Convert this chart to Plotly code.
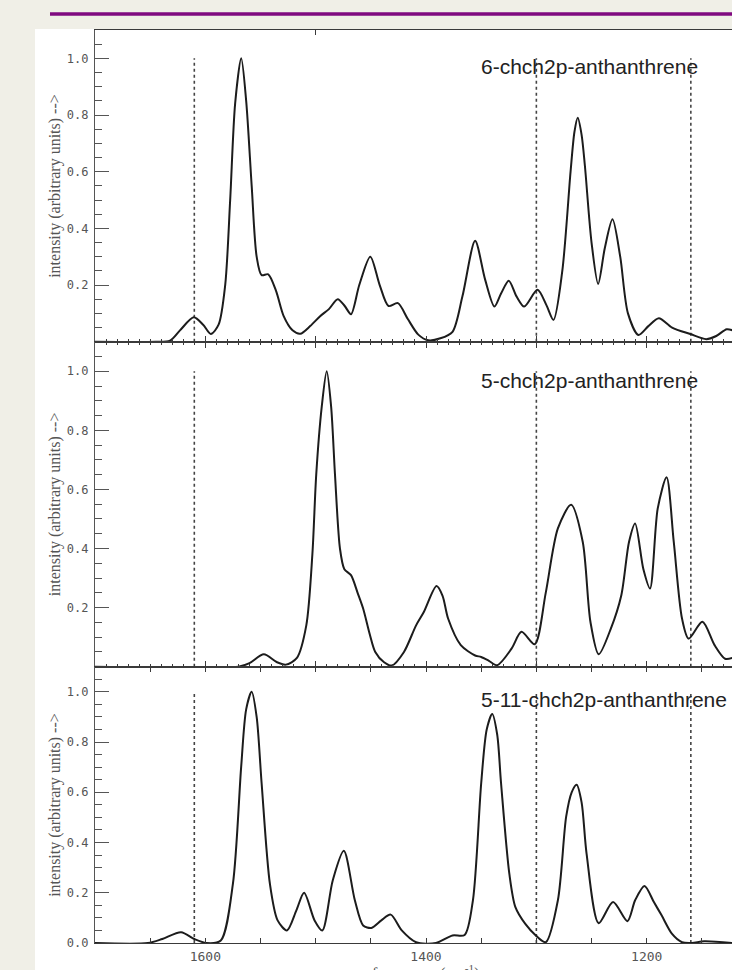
import plotly.graph_objects as go

# ---------------- data ----------------
FREQ_1 = [1700, 1645, 1632, 1623, 1610.5, 1602, 1595, 1588, 1582, 1577.5, 1573, 1567.5, 1563, 1558,
          1553.5, 1549, 1543, 1536, 1529, 1521, 1514, 1505, 1496, 1488, 1480, 1473.5, 1468, 1460.5,
          1450.5, 1442, 1434, 1425.5, 1416.5, 1407, 1398, 1387, 1376, 1367, 1355.5, 1346.5, 1338,
          1332, 1325, 1318, 1311, 1299, 1291, 1284.5, 1276.5, 1269, 1265.5, 1262.5, 1259, 1256, 1250,
          1244, 1238, 1231, 1224, 1217, 1207.5, 1198.5, 1189, 1177, 1160.5, 1146, 1137, 1127.5, 1122]
INT_1 = [0, 0, 0.004, 0.04, 0.086, 0.06, 0.027, 0.06, 0.2, 0.5, 0.84, 1.0, 0.85, 0.55,
         0.3, 0.235, 0.238, 0.18, 0.09, 0.04, 0.028, 0.055, 0.09, 0.115, 0.15, 0.125, 0.097, 0.2,
         0.30, 0.2, 0.126, 0.136, 0.08, 0.025, 0.005, 0.012, 0.035, 0.16, 0.356, 0.22, 0.124,
         0.17, 0.215, 0.16, 0.124, 0.183, 0.13, 0.077, 0.25, 0.6, 0.74, 0.79, 0.73, 0.62, 0.35,
         0.204, 0.33, 0.432, 0.3, 0.1, 0.024, 0.055, 0.083, 0.05, 0.027, 0.009, 0.02, 0.044, 0.04]

FREQ_2 = [1700, 1570, 1560, 1547, 1535, 1527, 1517, 1508.5, 1503, 1499.5, 1494.5, 1490, 1486, 1482.5,
          1478, 1474, 1468, 1462, 1457, 1451, 1446, 1438, 1431, 1420, 1409, 1402, 1390.5, 1385,
          1380, 1368.5, 1355.5, 1350, 1343, 1335.5, 1322.5, 1313.5, 1301.5, 1291.5, 1280.5, 1268.5,
          1258, 1251, 1243.5, 1232.5, 1223, 1216, 1210.5, 1203, 1197, 1190, 1182, 1175.5, 1168,
          1162, 1149.5, 1138.5, 1129, 1122]
INT_2 = [0, 0, 0.012, 0.042, 0.015, 0.007, 0.03, 0.14, 0.38, 0.65, 0.88, 1.0, 0.88, 0.65,
         0.4, 0.33, 0.31, 0.25, 0.197, 0.11, 0.05, 0.015, 0.004, 0.05, 0.14, 0.185, 0.273, 0.24,
         0.163, 0.073, 0.038, 0.033, 0.02, 0.005, 0.061, 0.118, 0.076, 0.25, 0.468, 0.548,
         0.423, 0.152, 0.042, 0.129, 0.242, 0.423, 0.485, 0.33, 0.265, 0.536, 0.641, 0.423, 0.163,
         0.095, 0.152, 0.073, 0.027, 0.03]

FREQ_3 = [1700, 1652, 1639, 1622, 1610, 1599, 1586, 1575, 1567.5, 1563, 1558, 1553.5, 1549, 1541.5,
          1534.5, 1526, 1517.5, 1510.5, 1501, 1494, 1484.5, 1474.5, 1464.5, 1457, 1449.5, 1440.5,
          1432, 1422, 1409, 1391, 1376, 1365, 1357.5, 1350, 1345, 1340, 1335.5, 1332, 1324.5, 1319,
          1310, 1300.5, 1291.5, 1280.5, 1273, 1268, 1263.5, 1259, 1254.5, 1243.5, 1230.5, 1217.5,
          1210.5, 1202, 1193.5, 1186.5, 1177, 1168, 1159, 1148, 1122]
INT_3 = [0, 0, 0.016, 0.043, 0.016, 0.0, 0.01, 0.236, 0.703, 0.93, 1.0, 0.9, 0.636, 0.236,
         0.09, 0.05, 0.13, 0.2, 0.09, 0.05, 0.25, 0.367, 0.17, 0.07, 0.06, 0.09,
         0.113, 0.05, 0.003, 0.0, 0.03, 0.032, 0.17, 0.636, 0.85, 0.912, 0.83, 0.636, 0.276, 0.143,
         0.076, 0.03, 0.003, 0.17, 0.503, 0.6, 0.63, 0.56, 0.356, 0.079, 0.163, 0.087,
         0.17, 0.227, 0.163, 0.11, 0.036, 0.003, 0.0, 0.007, 0.0]

DOTTED_FREQS = [1610, 1300, 1160]
DOTTED_SPAN = [0.0, 1.0]
PANEL_LABELS = ["6-chch2p-anthanthrene", "5-chch2p-anthanthrene", "5-11-chch2p-anthanthrene"]
LABEL_POS = [1352, 0.97]
X_TICKS = [1600, 1400, 1200]
TOP_TICKS = [1500]
Y_TICKS_UPPER = [0.2, 0.4, 0.6, 0.8, 1.0]
Y_TICKS_LOWER = [0.0, 0.2, 0.4, 0.6, 0.8, 1.0]
Y_TITLE = "intensity (arbitrary units) -->"
X_TITLE = "frequency (cm<sup>-1</sup>)"
X_TITLE_AT = 1400
X_RANGE = [1700, 1122.7]
Y_RANGE = [0, 1.1]

# ---------------- layout geometry (pixels) ----------------
W, H = 732, 970
ML, MR, MT, MB = 95, 0, 30, 27
PW, PH = W - ML - MR, H - MT - MB
BOUNDS = [30, 341.7, 666.7, 943]  # panel top/bottom edges in px


def px_x(p):
    return (p - ML) / PW


def px_y(p):
    return (H - MB - p) / PH


series = [(FREQ_1, INT_1), (FREQ_2, INT_2), (FREQ_3, INT_3)]
CURVE = "#1c1c1c"
AX = "#3a3a3a"
GRAY = "#555555"

fig = go.Figure()
for i, (f, v) in enumerate(series):
    xa = "x" if i == 0 else f"x{i+1}"
    ya = "y" if i == 0 else f"y{i+1}"
    for d in DOTTED_FREQS:
        fig.add_trace(go.Scatter(x=[d, d], y=DOTTED_SPAN, mode="lines", xaxis=xa, yaxis=ya,
                                 line=dict(color="#444", width=1.6, dash="dot"),
                                 hoverinfo="skip", showlegend=False))
    fig.add_trace(go.Scatter(x=f, y=v, mode="lines", xaxis=xa, yaxis=ya,
                             line=dict(color=CURVE, width=2, shape="spline", smoothing=0.8),
                             hoverinfo="skip", showlegend=False))

fig.add_trace(go.Scatter(x=[], y=[], xaxis="x4", yaxis="y", showlegend=False, hoverinfo="skip"))

base_x = dict(range=X_RANGE, showgrid=False, zeroline=False, showline=True, linecolor=AX,
              linewidth=1.3, ticks="inside", tickcolor=AX, tickwidth=1, showticklabels=False)
base_y = dict(range=Y_RANGE, showgrid=False, zeroline=False, showline=True, linecolor=GRAY,
              linewidth=1.2, ticks="inside", ticklen=14, tickcolor=GRAY, tickwidth=1,
              tickformat=".1f", ticklabelstandoff=3,
              tickfont=dict(family="DejaVu Sans Mono", size=12, color=GRAY),
              minor=dict(dtick=0.05, tick0=0, ticklen=7, ticks="inside", tickcolor=GRAY))

layout = dict(width=W, height=H, margin=dict(l=ML, r=MR, t=MT, b=MB),
              paper_bgcolor="#F0EFE7", plot_bgcolor="white", showlegend=False)

for i in range(3):
    top, bot = BOUNDS[i], BOUNDS[i + 1]
    dom = [px_y(bot), px_y(top)]
    xk = "xaxis" if i == 0 else f"xaxis{i+1}"
    yk = "yaxis" if i == 0 else f"yaxis{i+1}"
    ya = "y" if i == 0 else f"y{i+1}"
    xa = "x" if i == 0 else f"x{i+1}"
    if i < 2:
        xcfg = dict(base_x, anchor=ya, dtick=100, tick0=1600, ticklen=6,
                    minor=dict(dtick=10, tick0=1600, ticklen=3, ticks="inside", tickcolor=AX),
                    mirror=(True if i == 0 else "ticks"))
    else:
        xcfg = dict(base_x, anchor=ya, tickvals=X_TICKS, ticklen=5, showticklabels=True,
                    ticklabelstandoff=1,
                    tickfont=dict(family="DejaVu Sans Mono", size=13, color=GRAY),
                    minor=dict(dtick=50, tick0=1600, ticklen=5, ticks="inside", tickcolor=AX),
                    mirror="ticks")
    layout[xk] = xcfg
    layout[yk] = dict(base_y, domain=dom, anchor=xa,
                      tickvals=(Y_TICKS_UPPER if i < 2 else Y_TICKS_LOWER))

layout["xaxis4"] = dict(overlaying="x", side="top", anchor="y", range=X_RANGE, tickvals=TOP_TICKS,
                        ticks="inside", ticklen=5, tickcolor=AX, showticklabels=False,
                        showline=False, showgrid=False, zeroline=False)

annotations = []
for i, lab in enumerate(PANEL_LABELS):
    xa = "x" if i == 0 else f"x{i+1}"
    ya = "y" if i == 0 else f"y{i+1}"
    annotations.append(dict(text=lab, x=LABEL_POS[0], y=LABEL_POS[1], xref=xa, yref=ya,
                            xanchor="left", yanchor="middle", showarrow=False,
                            font=dict(family="Liberation Sans", size=21, color="#222")))
    top, bot = BOUNDS[i], BOUNDS[i + 1]
    annotations.append(dict(text=Y_TITLE, x=px_x(55), y=(px_y(top) + px_y(bot)) / 2,
                            xref="paper", yref="paper", xanchor="center", yanchor="middle",
                            textangle=-90, showarrow=False,
                            font=dict(family="Liberation Serif", size=16, color=GRAY)))
annotations.append(dict(text=X_TITLE, x=X_TITLE_AT, y=px_y(960), xref="x3", yref="paper",
                        xanchor="center", yanchor="top", showarrow=False,
                        font=dict(family="Liberation Serif", size=16, color=GRAY)))
layout["annotations"] = annotations

layout["shapes"] = [
    dict(type="rect", xref="paper", yref="paper", x0=px_x(35), x1=px_x(W + 10),
         y0=px_y(H + 20), y1=px_y(29), fillcolor="white", line=dict(width=0), layer="below"),
    dict(type="line", xref="paper", yref="paper", x0=px_x(50), x1=px_x(W + 10),
         y0=px_y(14), y1=px_y(14), line=dict(color="#800a80", width=3.5)),
]

fig.update_layout(layout)
fig.write_html("out.html", config={"displayModeBar": False},
               post_script="document.body.style.margin='0px';document.body.style.overflow='hidden';")
